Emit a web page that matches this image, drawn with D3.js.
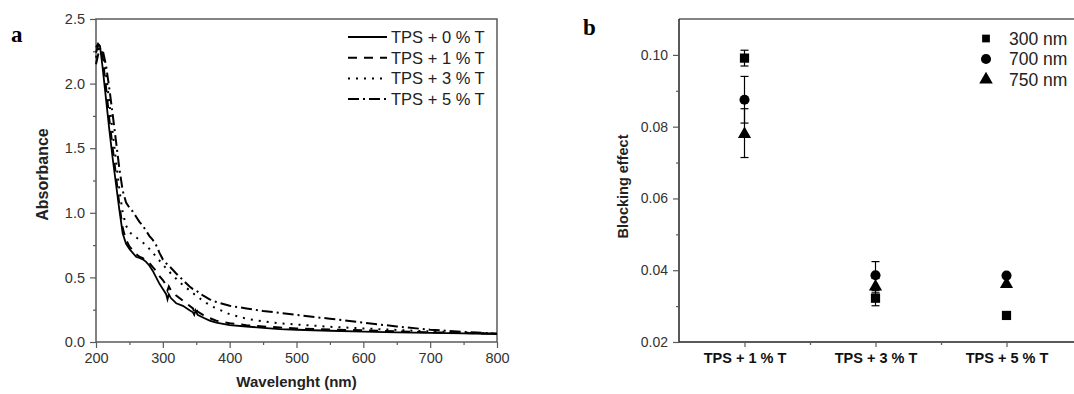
<!DOCTYPE html>
<html>
<head>
<meta charset="utf-8">
<script src="https://cdn.jsdelivr.net/npm/d3@7"></script>
<style>
  body { margin: 0; background: #fff; }
  svg { display: block; }
  text { font-family: "Liberation Sans", Arial, sans-serif; }
</style>
</head>
<body>
<svg id="chart" width="1074" height="394"></svg>
<script>
// ---- panel a: absorbance spectra ----
const wavelength = [200,203,206,210,215,220,225,230,235,240,245,250,255,260,265,270,275,280,285,290,295,300,305,307,309,312,320,330,340,345,347,349,352,360,370,380,400,425,450,475,500,550,600,650,700,750,800];
const abs0 = [2.28,2.31,2.29,2.12,1.88,1.64,1.42,1.22,1.02,0.84,0.76,0.72,0.69,0.66,0.65,0.64,0.62,0.59,0.55,0.50,0.45,0.41,0.37,0.33,0.37,0.34,0.30,0.28,0.245,0.23,0.21,0.245,0.21,0.19,0.165,0.15,0.13,0.12,0.11,0.10,0.095,0.087,0.08,0.074,0.07,0.066,0.062];
const abs1 = [2.24,2.29,2.30,2.20,1.97,1.72,1.50,1.28,1.06,0.88,0.79,0.74,0.71,0.68,0.66,0.65,0.63,0.61,0.58,0.55,0.51,0.48,0.44,0.40,0.43,0.40,0.36,0.32,0.28,0.26,0.235,0.265,0.235,0.21,0.185,0.165,0.145,0.13,0.12,0.112,0.105,0.097,0.09,0.082,0.075,0.069,0.064];
const abs3 = [2.20,2.26,2.28,2.24,2.08,1.85,1.62,1.40,1.18,1.00,0.90,0.85,0.83,0.81,0.79,0.77,0.75,0.72,0.69,0.66,0.63,0.60,0.57,0.56,0.55,0.53,0.49,0.44,0.40,0.38,0.37,0.36,0.35,0.32,0.285,0.26,0.215,0.18,0.16,0.145,0.135,0.118,0.105,0.093,0.082,0.073,0.066];
const abs5 = [2.15,2.22,2.27,2.26,2.14,1.96,1.76,1.55,1.34,1.17,1.08,1.04,1.01,0.97,0.93,0.90,0.86,0.82,0.79,0.75,0.69,0.64,0.61,0.60,0.59,0.575,0.53,0.48,0.43,0.41,0.405,0.40,0.39,0.36,0.33,0.31,0.28,0.26,0.24,0.225,0.21,0.18,0.15,0.12,0.095,0.078,0.066];
const seriesNames = ["TPS + 0 % T", "TPS + 1 % T", "TPS + 3 % T", "TPS + 5 % T"];
const dashes = [null, "9,7", "2,6", "11,4,2,4"];

// ---- panel b: blocking effect ----
const samples = ["TPS + 1 % T", "TPS + 3 % T", "TPS + 5 % T"];
const bandNames = ["300 nm", "700 nm", "750 nm"];
const block300 = [0.0991, 0.0322, 0.0274];
const block700 = [0.0875, 0.0386, 0.0385];
const block750 = [0.0782, 0.0357, 0.0364];
const err300 = [0.0022, 0.0021, 0.0];
const err700 = [0.0065, 0.0038, 0.0];
const err750 = [0.0068, 0.0020, 0.0];

const svg = d3.select("#chart");
const axisCol = "#5a5a5a";
const labCol = "#333";

// ===== panel a =====
const a = {left: 96, right: 497, top: 19, bottom: 342};
const x = d3.scaleLinear().domain([200, 800]).range([a.left, a.right]);
const y = d3.scaleLinear().domain([0, 2.5]).range([a.bottom, a.top]);

const ga = svg.append("g");
// frame
ga.append("rect").attr("x", a.left).attr("y", a.top)
  .attr("width", a.right - a.left).attr("height", a.bottom - a.top)
  .attr("fill", "none").attr("stroke", axisCol).attr("stroke-width", 1.5);

function styleAxis(g, fs) {
  g.select(".domain").remove();
  g.selectAll(".tick line").attr("stroke", axisCol).attr("stroke-width", 1.2);
  g.selectAll(".tick text").attr("fill", labCol).style("font-size", fs + "px");
}

ga.append("g").attr("transform", `translate(0,${a.bottom})`)
  .call(d3.axisBottom(x).tickValues(d3.range(250, 800, 100)).tickSize(3).tickFormat(""))
  .call(g => styleAxis(g, 14));
ga.append("g").attr("transform", `translate(0,${a.bottom})`)
  .call(d3.axisBottom(x).tickValues(d3.range(200, 801, 100)).tickSize(6).tickPadding(5))
  .call(g => styleAxis(g, 14.5));
ga.append("g").attr("transform", `translate(${a.left},0)`)
  .call(d3.axisLeft(y).tickValues(d3.range(0.25, 2.5, 0.5)).tickSize(3).tickFormat(""))
  .call(g => styleAxis(g, 14));
ga.append("g").attr("transform", `translate(${a.left},0)`)
  .call(d3.axisLeft(y).tickValues([0, 0.5, 1, 1.5, 2, 2.5]).tickSize(6).tickPadding(5).tickFormat(d3.format(".1f")))
  .call(g => styleAxis(g, 14.5));

const line = d3.line().x((d, i) => x(wavelength[i])).y(d => y(d));
[abs0, abs1, abs3, abs5].forEach((vals, k) => {
  ga.append("path").datum(vals).attr("d", line)
    .attr("fill", "none").attr("stroke", "#000")
    .attr("stroke-width", k === 0 ? 1.8 : 2)
    .attr("stroke-dasharray", dashes[k]);
});

// legend a
seriesNames.forEach((name, k) => {
  const yy = 37 + k * 20.7;
  ga.append("line").attr("x1", 348).attr("x2", 387).attr("y1", yy).attr("y2", yy)
    .attr("stroke", "#000").attr("stroke-width", 2).attr("stroke-dasharray", dashes[k]);
  ga.append("text").attr("x", 391).attr("y", yy + 6).text(name)
    .style("font-size", "16.5px").attr("fill", "#222");
});

ga.append("text").attr("x", (a.left + a.right) / 2).attr("y", 387)
  .attr("text-anchor", "middle").style("font-size", "15px").style("font-weight", "bold")
  .attr("fill", "#222").text("Wavelenght (nm)");
ga.append("text").attr("transform", `translate(48,${(a.top + a.bottom) / 2 - 6}) rotate(-90)`)
  .attr("text-anchor", "middle").style("font-size", "16px").style("font-weight", "bold")
  .attr("fill", "#222").text("Absorbance");
ga.append("text").attr("x", 11).attr("y", 42).text("a")
  .style("font-family", "'Liberation Serif', 'Times New Roman', serif")
  .style("font-size", "23px").style("font-weight", "bold");

// ===== panel b =====
const b = {left: 679, top: 19, bottom: 342};
const xb = d3.scaleLinear().domain([0.5, 3.5]).range([b.left, 1072]);
const yb = d3.scaleLinear().domain([0.02, 0.11]).range([b.bottom, b.top]);

const gb = svg.append("g");
gb.append("line").attr("x1", b.left).attr("x2", 1080).attr("y1", b.top).attr("y2", b.top)
  .attr("stroke", axisCol).attr("stroke-width", 1.5);
gb.append("line").attr("x1", b.left).attr("x2", 1080).attr("y1", b.bottom).attr("y2", b.bottom)
  .attr("stroke", "#222").attr("stroke-width", 1.5);
gb.append("line").attr("x1", b.left).attr("x2", b.left).attr("y1", b.top).attr("y2", b.bottom)
  .attr("stroke", "#222").attr("stroke-width", 1.5);

gb.append("g").attr("transform", `translate(0,${b.bottom})`)
  .call(d3.axisBottom(xb).tickValues([1.5, 2.5]).tickSize(3).tickFormat(""))
  .call(g => styleAxis(g, 14));
gb.append("g").attr("transform", `translate(0,${b.bottom})`)
  .call(d3.axisBottom(xb).tickValues([1, 2, 3]).tickSize(5).tickPadding(6).tickFormat(d => samples[d - 1]))
  .call(g => styleAxis(g, 14.5))
  .call(g => g.selectAll(".tick text").style("font-weight", "bold").attr("fill", "#111"));
gb.append("g").attr("transform", `translate(${b.left},0)`)
  .call(d3.axisLeft(yb).tickValues([0.03, 0.05, 0.07, 0.09]).tickSize(3).tickFormat(""))
  .call(g => styleAxis(g, 14));
gb.append("g").attr("transform", `translate(${b.left},0)`)
  .call(d3.axisLeft(yb).tickValues([0.02, 0.04, 0.06, 0.08, 0.10]).tickSize(6).tickPadding(5).tickFormat(d3.format(".2f")))
  .call(g => styleAxis(g, 14));

const sym = [d3.symbolSquare, d3.symbolCircle, d3.symbolTriangle];
const symSize = [85, 80, 75];
const groups = [[block300, err300], [block700, err700], [block750, err750]];
// error bars first
groups.forEach(([vals, errs]) => {
  vals.forEach((v, i) => {
    if (!errs[i]) return;
    const cx = xb(i + 1), y1 = yb(v + errs[i]), y2 = yb(v - errs[i]);
    gb.append("line").attr("x1", cx).attr("x2", cx).attr("y1", y1).attr("y2", y2)
      .attr("stroke", "#000").attr("stroke-width", 1.2);
    [y1, y2].forEach(yy => gb.append("line").attr("x1", cx - 4).attr("x2", cx + 4)
      .attr("y1", yy).attr("y2", yy).attr("stroke", "#000").attr("stroke-width", 1.2));
  });
});
groups.forEach(([vals], k) => {
  vals.forEach((v, i) => {
    gb.append("path").attr("d", d3.symbol().type(sym[k]).size(symSize[k]))
      .attr("transform", `translate(${xb(i + 1)},${yb(v) + (k === 2 ? 1 : 0)})`)
      .attr("fill", "#000");
  });
});

// legend b
bandNames.forEach((name, k) => {
  const yy = 38.5 + k * 20.5;
  gb.append("path").attr("d", d3.symbol().type(sym[k]).size(k === 0 ? 60 : 80))
    .attr("transform", `translate(986,${yy})`).attr("fill", "#000");
  gb.append("text").attr("x", 1009).attr("y", yy + 6).text(name)
    .style("font-size", "17.5px").attr("fill", "#222");
});

gb.append("text").attr("transform", `translate(628,${(b.top + b.bottom) / 2 + 6}) rotate(-90)`)
  .attr("text-anchor", "middle").style("font-size", "14.5px").style("font-weight", "bold")
  .attr("fill", "#222").text("Blocking effect");
gb.append("text").attr("x", 583).attr("y", 35).text("b")
  .style("font-family", "'Liberation Serif', 'Times New Roman', serif")
  .style("font-size", "23px").style("font-weight", "bold");
</script>
</body>
</html>
